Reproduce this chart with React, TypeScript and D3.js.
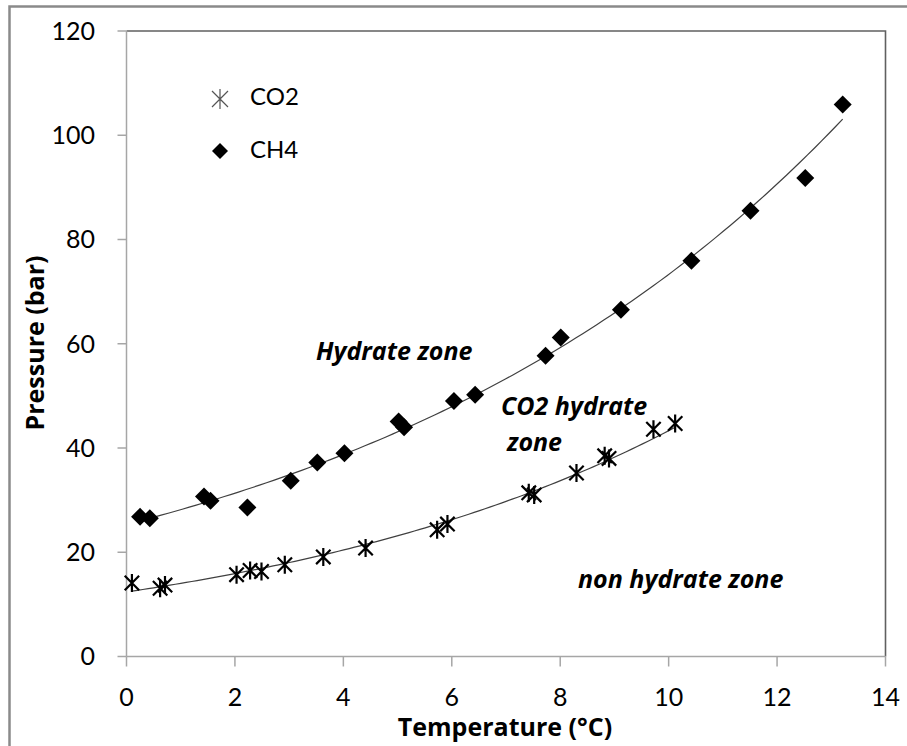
import { scaleLinear, line, range } from "d3";

// values
const co2Temp = [0.10, 0.62, 0.71, 2.03, 2.28, 2.49, 2.92, 3.63, 4.41, 5.73, 5.92, 7.42, 7.52, 8.30, 8.82, 8.90, 9.72, 10.12];
const co2Pres = [14.1, 13.1, 13.7, 15.7, 16.5, 16.3, 17.6, 19.1, 20.8, 24.3, 25.4, 31.4, 31.0, 35.2, 38.5, 38.0, 43.6, 44.7];
const ch4Temp = [0.25, 0.43, 1.43, 1.55, 2.23, 3.03, 3.52, 4.02, 5.02, 5.12, 6.04, 6.43, 7.73, 8.01, 9.12, 10.42, 11.51, 12.52, 13.21];
const ch4Pres = [26.8, 26.5, 30.7, 29.9, 28.6, 33.7, 37.2, 39.0, 45.1, 44.0, 49.0, 50.2, 57.7, 61.2, 66.5, 75.9, 85.5, 91.8, 105.9];

const xTicks = [0, 2, 4, 6, 8, 10, 12, 14];
const yTicks = [0, 20, 40, 60, 80, 100, 120];

const font = "Lato, 'Open Sans', sans-serif";
const boldFont = "'Open Sans', Lato, sans-serif";

// exponential trendline, least squares on ln(y) like excel does
const expFit = (xs: number[], ys: number[]) => {
  const n = xs.length;
  const ly = ys.map(Math.log);
  const mx = xs.reduce((a, b) => a + b, 0) / n;
  const my = ly.reduce((a, b) => a + b, 0) / n;
  let sxy = 0, sxx = 0;
  xs.forEach((x, i) => {
    sxy += (x - mx) * (ly[i] - my);
    sxx += (x - mx) * (x - mx);
  });
  const b = sxy / sxx;
  const a = Math.exp(my - b * mx);
  return (x: number) => a * Math.exp(b * x);
};

const starPath = (r: number) => {
  const d = r * 0.8;
  return `M0,${-r}L0,${r}M${-d},${-d}L${d},${d}M${-d},${d}L${d},${-d}`;
};
const diamondPath = (r: number) => `M0,${-r}L${r},0L0,${r}L${-r},0Z`;

const App = () => {
  const x = scaleLinear().domain([0, 14]).range([126.5, 885.5]);
  const y = scaleLinear().domain([0, 120]).range([656.5, 31]);

  const curve = (xs: number[], ys: number[]) => {
    const f = expFit(xs, ys);
    const lo = Math.min(...xs), hi = Math.max(...xs);
    const pts = range(0, 101).map((i) => lo + ((hi - lo) * i) / 100);
    return line<number>().x((t) => x(t)).y((t) => y(f(t)))(pts) || "";
  };

  return (
    <svg width={907} height={746} style={{ position: "absolute", left: 0, top: 0, background: "#fff" }} fontFamily={font}>
      {/* outer frame, cut at right and bottom */}
      <path d="M9.5,746V6.5H907" fill="none" stroke="#8a8a8a" strokeWidth={2.5} />

      {/* plot borders */}
      <path d={`M${x(0)},${y(120)}H${x(14)}V${y(0)}`} fill="none" stroke="#606060" strokeWidth={1.6} />
      <line x1={x(0)} x2={x(0)} y1={y(120)} y2={y(0)} stroke="#a6a6a6" strokeWidth={1.5} />
      <line x1={x(0)} x2={x(14)} y1={y(0)} y2={y(0)} stroke="#a6a6a6" strokeWidth={1.5} />

      {/* y ticks */}
      {yTicks.map((t) => (
        <g key={t}>
          <line x1={x(0) - 9} x2={x(0)} y1={y(t)} y2={y(t)} stroke="#a6a6a6" strokeWidth={1.5} />
          <text x={95} y={y(t)} dy="0.35em" textAnchor="end" fontSize={25} fill="#000">{t}</text>
        </g>
      ))}
      {/* x ticks */}
      {xTicks.map((t) => (
        <g key={t}>
          <line x1={x(t)} x2={x(t)} y1={y(0)} y2={y(0) + 10} stroke="#a6a6a6" strokeWidth={1.5} />
          <text x={x(t)} y={706} textAnchor="middle" fontSize={25} fill="#000">{t}</text>
        </g>
      ))}

      {/* axis titles */}
      <text x={505} y={736} textAnchor="middle" fontSize={25} fontWeight="bold" fontFamily={boldFont}>Temperature (°C)</text>
      <text transform="translate(44,343) rotate(-90)" textAnchor="middle" fontSize={25} fontWeight="bold" fontFamily={boldFont}>Pressure (bar)</text>

      {/* trendlines */}
      <path d={curve(ch4Temp, ch4Pres)} fill="none" stroke="#404040" strokeWidth={1.2} />
      <path d={curve(co2Temp, co2Pres)} fill="none" stroke="#404040" strokeWidth={1.2} />

      {/* CH4 diamonds */}
      {ch4Temp.map((t, i) => (
        <path key={"ch4" + i} d={diamondPath(9)} transform={`translate(${x(t)},${y(ch4Pres[i])})`} fill="#000" />
      ))}
      {/* CO2 stars */}
      {co2Temp.map((t, i) => (
        <path key={"co2" + i} d={starPath(9)} transform={`translate(${x(t)},${y(co2Pres[i])})`} fill="none" stroke="#000" strokeWidth={2.2} />
      ))}

      {/* legend */}
      <path d={starPath(10)} transform="translate(220,99)" fill="none" stroke="#555" strokeWidth={1.2} />
      <text x={250} y={105} fontSize={24}>CO2</text>
      <path d={diamondPath(8)} transform="translate(220,151)" fill="#000" />
      <text x={250} y={158} fontSize={24}>CH4</text>

      {/* zone labels */}
      <g fontWeight="bold" fontStyle="italic" fontSize={25} fontFamily={boldFont}>
        <text x={316} y={360}>Hydrate zone</text>
        <text x={501} y={415}>CO2 hydrate</text>
        <text x={507} y={451}>zone</text>
        <text x={578} y={588}>non hydrate zone</text>
      </g>
    </svg>
  );
};

export default App;
